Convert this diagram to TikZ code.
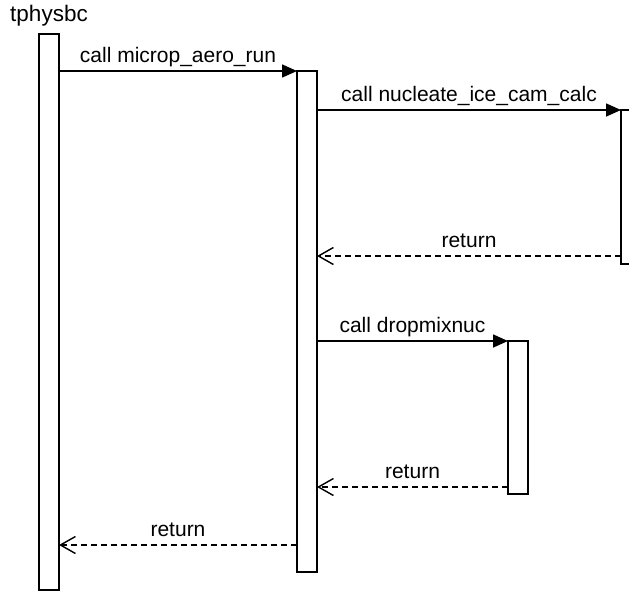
\documentclass[tikz,border=0pt]{standalone}
\usepackage{fontspec}
\setmainfont{Liberation Sans}
\usetikzlibrary{arrows.meta}
\begin{document}
\begin{tikzpicture}[x=1pt,y=-1pt,
  actbar/.style={draw=black, fill=white, line width=1.6pt, minimum width=20pt,
    inner sep=0pt, outer sep=0pt, anchor=north},
  callmsg/.style={draw=black, line width=1.6pt, -{Triangle[length=15pt,width=13pt]}},
  retmsg/.style={draw=black, line width=1.4pt, dash pattern=on 6pt off 4pt,
    -{Straight Barb[length=15pt,width=17pt,line width=1.4pt]}},
  lbl/.style={font=\fontsize{21}{25}\selectfont, inner sep=0pt, anchor=base, yshift=9pt}
]
\useasboundingbox (0,0) rectangle (629,592);
\node[actbar, minimum height=556pt] (b1) at (49,34) {};
\node[actbar, minimum height=501pt] (b2) at (307,71) {};
\node[actbar, minimum height=154pt] (b3) at (631,110) {};
\node[actbar, minimum height=153pt] (b4) at (518,341) {};
\node[font=\fontsize{22.5}{27}\selectfont, inner sep=0pt, anchor=base] (title) at (49,21) {tphysbc};
% calls
\draw[callmsg] (b1.east |- b2.north) -- node[lbl] {call microp\_aero\_run} (b2.north west);
\draw[callmsg] (b2.east |- b3.north) -- node[lbl] {call nucleate\_ice\_cam\_calc} (b3.north west);
\draw[callmsg] (b2.east |- b4.north) -- node[lbl] {call dropmixnuc} (b4.north west);
% returns
\coordinate (r1) at ([yshift=8pt]b3.south west);
\coordinate (r2) at ([yshift=7pt]b4.south west);
\coordinate (r3) at ([yshift=27pt]b2.south west);
\draw[retmsg] (r1) -- node[lbl] {return} (b2.east |- r1);
\draw[retmsg] (r2) -- node[lbl] {return} (b2.east |- r2);
\draw[retmsg] (r3) -- node[lbl] {return} (b1.east |- r3);
\end{tikzpicture}
\end{document}
